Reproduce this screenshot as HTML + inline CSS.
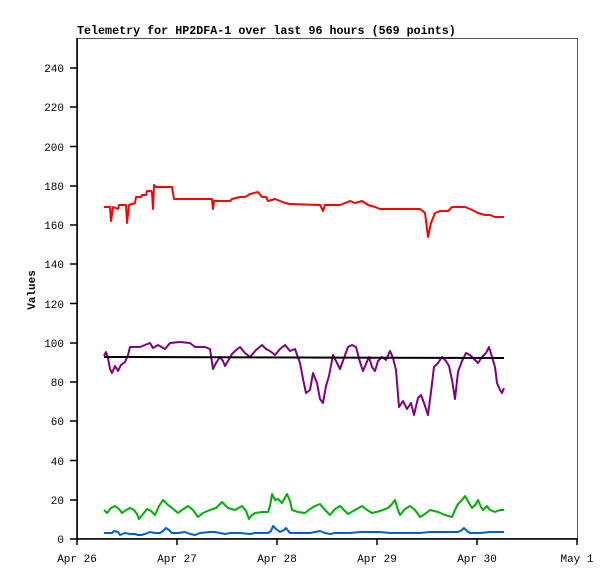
<!DOCTYPE html>
<html><head><style>body{margin:0;background:#fff}svg{display:block}</style></head><body>
<svg width="615" height="579" xmlns="http://www.w3.org/2000/svg" font-family="Liberation Mono, monospace">
<rect width="615" height="579" fill="#fff"/>
<text x="77" y="34" font-size="11.7" font-weight="bold">Telemetry for HP2DFA-1 over last 96 hours (569 points)</text>
<g fill="none" stroke-width="2" stroke-linejoin="round">
<polyline stroke="#ff0000" points="104,207 110,207 111,221 113,207 118,209 119,205 126,205 127,223 129,205 135,203 136,197 141,197 142,195 146,195 147,191 151,191 152,193 153,209 154,185 156,187 172,187 174,199 212,199 213,209 214,201 230,201 232,199 240,197 245,197 250,194 258,192 262,197 266,197 268,201 275,199 285,203 290,204 320,205 323,211 325,205 340,205 345,203 350,201 355,203 362,201 368,205 375,207 380,209 420,209 425,213 428,237 431,223 435,213 440,211 448,211 452,207 465,207 470,209 478,213 485,215 490,215 495,217 504,217"/>
<polyline stroke="#800080" points="104,356 106,352 108,358 110,369 112,373 115,366 118,371 121,365 125,362 128,355 130,347 140,347 145,345 150,343 153,348 158,345 165,349 170,343 180,342 190,343 195,347 205,347 210,349 213,369 216,363 220,357 223,361 225,366 228,361 232,354 235,351 240,347 245,353 250,357 256,350 262,345 266,349 270,351 275,355 280,349 285,345 290,351 295,349 300,363 303,379 306,393 310,390 313,373 317,383 320,399 323,403 326,386 329,376 333,355 337,363 340,369 344,358 348,347 352,345 356,347 360,362 363,371 366,364 369,357 372,367 375,371 378,361 382,357 386,360 390,351 393,358 396,370 399,407 403,401 407,409 411,403 414,415 418,398 421,395 424,403 428,415 431,392 434,367 438,363 442,357 446,361 449,366 452,380 455,399 458,372 462,361 466,353 470,355 474,359 478,363 482,357 486,353 489,347 492,357 495,367 497,383 500,390 502,393 504,388"/>
<polyline stroke="#000" points="104,357 504,358"/>
<polyline stroke="#00b000" points="104,510 107,513 111,508 115,506 119,509 122,513 126,510 130,508 134,510 137,514 139,519 143,514 147,509 151,511 155,515 159,506 163,500 166,503 168,505 172,508 178,513 182,510 188,506 193,510 198,517 203,513 210,510 216,508 222,502 226,506 228,508 235,510 242,506 246,511 249,519 252,515 255,513 262,512 268,512 270,506 272,494 275,500 278,499 282,503 287,494 290,501 292,510 298,512 305,513 310,509 315,506 320,504 325,510 330,515 335,509 340,506 345,511 348,514 355,510 362,506 367,510 372,513 380,511 388,508 392,504 395,500 398,510 400,515 405,509 410,506 415,510 420,517 425,514 430,510 438,512 445,515 452,517 455,510 458,504 462,500 465,496 469,503 472,508 476,504 478,500 481,507 483,510 487,506 490,510 495,512 500,510 504,510"/>
<polyline stroke="#0060d0" points="104,533 112,533 114,531 118,532 120,535 125,533 130,534 135,534 138,535 141,535 145,534 150,532 155,533 160,533 163,531 166,528 169,530 172,533 178,533 185,532 190,534 195,535 200,533 210,532 215,532 220,533 225,534 230,533 240,533 250,534 255,533 260,533 268,533 271,531 273,526 276,529 280,532 284,530 286,528 290,533 300,533 310,533 320,531 325,533 330,534 335,533 350,533 360,532 370,532 380,532 390,533 400,533 410,533 420,533 430,532 440,532 450,532 458,532 462,530 464,528 467,531 470,533 480,533 490,532 504,532"/>
</g>
<rect x="77.5" y="38.5" width="500" height="500" fill="none" stroke="#555" stroke-width="1"/>
<line x1="77" y1="539" x2="578" y2="539" stroke="#000" stroke-width="1.5"/>
<line x1="77" y1="38" x2="77" y2="540" stroke="#000" stroke-width="1.5"/>
<g stroke="#000" stroke-width="1.5">
<line x1="77" x2="77" y1="539" y2="545"/><line x1="177" x2="177" y1="539" y2="545"/><line x1="277" x2="277" y1="539" y2="545"/><line x1="377" x2="377" y1="539" y2="545"/><line x1="477" x2="477" y1="539" y2="545"/><line x1="577" x2="577" y1="539" y2="545"/>
<line x1="70" x2="77" y1="539" y2="539"/><line x1="70" x2="77" y1="500" y2="500"/><line x1="70" x2="77" y1="460.5" y2="460.5"/><line x1="70" x2="77" y1="421" y2="421"/><line x1="70" x2="77" y1="382" y2="382"/><line x1="70" x2="77" y1="343" y2="343"/><line x1="70" x2="77" y1="303.5" y2="303.5"/><line x1="70" x2="77" y1="264" y2="264"/><line x1="70" x2="77" y1="225" y2="225"/><line x1="70" x2="77" y1="186" y2="186"/><line x1="70" x2="77" y1="146.5" y2="146.5"/><line x1="70" x2="77" y1="107" y2="107"/><line x1="70" x2="77" y1="68" y2="68"/>
</g>
<g font-size="11" text-anchor="end">
<text x="64" y="543">0</text><text x="64" y="504">20</text><text x="64" y="465">40</text><text x="64" y="425">60</text><text x="64" y="386">80</text><text x="64" y="347">100</text><text x="64" y="308">120</text><text x="64" y="268">140</text><text x="64" y="229">160</text><text x="64" y="190">180</text><text x="64" y="151">200</text><text x="64" y="111">220</text><text x="64" y="72">240</text>
</g>
<g font-size="11" text-anchor="middle">
<text x="77" y="562">Apr 26</text><text x="177" y="562">Apr 27</text><text x="277" y="562">Apr 28</text><text x="377" y="562">Apr 29</text><text x="477" y="562">Apr 30</text><text x="577" y="562">May 1</text>
</g>
<text x="0" y="0" font-size="11" font-weight="bold" text-anchor="middle" transform="translate(35,290) rotate(-90)">Values</text>
</svg>
</body></html>
